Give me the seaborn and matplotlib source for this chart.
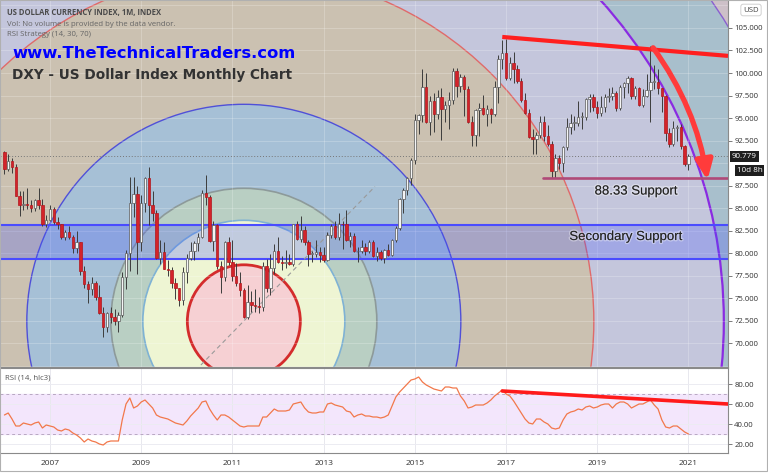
import numpy as np
import pandas as pd
import matplotlib
matplotlib.use("Agg")
import matplotlib.pyplot as plt
import seaborn as sns
from matplotlib.patches import Circle, FancyArrowPatch, Rectangle, ArrowStyle
from matplotlib.transforms import IdentityTransform, blended_transform_factory
import matplotlib.patheffects as pe

# ---------------- data (monthly DXY, Jan 2006 .. Jan 2021) ----------------
start_month = "2006-01"
first_open = 91.2
close = [89.4, 90.2, 89.6, 86.4, 85.3, 85.5, 85.3, 85.0, 85.9, 85.3, 83.3, 83.7,
         84.9, 83.5, 83.2, 81.8, 82.4, 81.8, 80.6, 81.2, 78.0, 76.6, 76.0, 76.7,
         75.2, 73.4, 71.8, 73.4, 72.9, 72.5, 73.1, 77.4, 80.0, 85.6, 86.6, 81.3,
         85.6, 88.3, 85.4, 84.5, 79.5, 80.1, 78.3, 78.1, 76.7, 76.1, 74.8, 77.9,
         79.5, 80.3, 81.1, 81.8, 86.7, 86.2, 81.4, 83.1, 78.6, 77.4, 81.2, 79.0,
         77.5, 76.7, 75.9, 72.9, 74.6, 74.3, 74.1, 74.0, 78.6, 76.2, 78.4, 80.2,
         79.0, 78.9, 79.0, 78.8, 83.2, 81.6, 82.6, 81.2, 79.9, 79.9, 80.1, 79.8,
         79.2, 82.0, 83.0, 81.8, 83.3, 83.2, 81.5, 81.9, 80.2, 80.2, 80.7, 80.2,
         81.2, 79.7, 80.1, 79.5, 80.4, 79.8, 81.5, 82.8, 86.0, 87.0, 88.4, 90.3,
         94.8, 95.3, 98.4, 94.6, 96.9, 95.5, 97.3, 96.0, 96.4, 97.0, 100.2, 98.6,
         99.6, 98.2, 94.6, 93.1, 95.9, 96.1, 95.5, 96.0, 95.4, 98.5, 101.5, 102.2,
         99.5, 101.1, 100.4, 99.1, 97.0, 95.6, 92.9, 92.7, 93.1, 94.6, 93.0, 92.1,
         89.1, 90.6, 90.0, 91.8, 94.0, 94.5, 94.5, 95.1, 95.1, 97.1, 97.3, 96.2,
         95.6, 96.2, 97.3, 97.5, 97.8, 96.1, 98.5, 98.9, 99.4, 97.4, 98.3, 96.4,
         97.4, 98.1, 99.0, 99.0, 98.3, 97.4, 93.3, 92.1, 93.9, 94.0, 91.9, 89.9,
         90.78]
high = [91.4, 91.0, 90.6, 89.9, 86.9, 86.9, 87.2, 85.9, 86.0, 87.2, 86.0, 84.3,
        85.4, 85.1, 84.0, 83.3, 82.6, 83.0, 82.0, 82.5, 81.3, 78.6, 76.9, 77.4,
        76.9, 76.5, 74.0, 73.5, 74.0, 73.8, 73.5, 77.9, 80.4, 88.5, 88.5, 87.5,
        86.5, 88.5, 89.6, 86.9, 84.8, 81.5, 81.3, 79.2, 78.5, 77.3, 76.2, 78.5,
        79.9, 81.3, 81.4, 82.2, 87.0, 88.7, 86.5, 83.6, 83.3, 79.1, 81.4, 81.8,
        81.5, 78.9, 77.9, 76.1, 76.5, 75.8, 76.0, 75.1, 79.0, 79.4, 79.9, 81.0,
        81.8, 79.7, 80.4, 79.9, 83.3, 83.6, 84.1, 83.0, 81.5, 80.3, 81.5, 80.7,
        80.7, 82.4, 83.2, 83.6, 84.5, 83.6, 84.8, 82.4, 82.3, 80.7, 81.5, 81.1,
        81.5, 81.5, 80.7, 80.4, 80.5, 81.0, 81.6, 83.0, 86.1, 87.2, 88.5, 90.6,
        95.5, 95.5, 100.4, 100.0, 97.4, 97.8, 98.1, 98.3, 96.9, 97.9, 100.5, 100.6,
        99.9, 99.8, 98.6, 95.2, 96.0, 96.7, 97.6, 96.4, 96.1, 99.1, 102.0, 103.7,
        103.8, 101.8, 102.3, 100.9, 99.5, 97.8, 96.0, 93.8, 93.4, 95.2, 95.2, 94.2,
        92.5, 91.0, 90.9, 91.9, 95.0, 95.5, 95.2, 96.9, 95.7, 97.2, 97.7, 97.7,
        96.9, 97.4, 97.7, 98.3, 98.4, 98.0, 98.7, 99.0, 99.7, 99.6, 98.6, 98.5,
        98.2, 99.9, 103.0, 100.9, 100.4, 98.3, 97.6, 93.9, 94.7, 94.2, 94.3, 92.0,
        91.0]
low = [88.8, 89.1, 88.9, 86.3, 84.1, 84.8, 84.9, 84.6, 84.7, 84.9, 83.0, 82.9,
       83.6, 83.3, 82.7, 81.6, 81.5, 81.6, 80.0, 80.0, 77.6, 76.1, 74.5, 75.4,
       74.8, 73.3, 70.7, 71.3, 72.3, 72.0, 71.3, 72.9, 76.0, 78.0, 84.0, 77.7,
       80.3, 84.6, 83.1, 83.6, 79.4, 78.8, 78.2, 77.5, 76.1, 74.9, 74.2, 74.3,
       76.7, 79.2, 79.3, 80.2, 81.7, 85.4, 81.2, 80.2, 78.3, 75.6, 76.9, 78.7,
       76.9, 76.4, 75.3, 72.8, 72.7, 73.5, 73.5, 73.4, 73.6, 75.7, 75.4, 77.7,
       78.9, 78.1, 78.4, 78.7, 78.6, 81.5, 81.3, 80.9, 78.6, 79.0, 79.6, 79.0,
       79.0, 79.1, 81.7, 81.6, 81.5, 80.5, 81.4, 80.7, 80.1, 79.0, 80.0, 79.8,
       80.0, 79.6, 79.1, 79.2, 78.9, 79.7, 79.7, 81.3, 82.6, 84.5, 86.5, 87.6,
       89.9, 93.2, 94.6, 94.5, 93.1, 93.5, 94.9, 92.6, 94.6, 93.8, 96.6, 97.3,
       97.9, 95.2, 94.5, 91.9, 91.9, 93.0, 95.3, 94.1, 94.4, 95.2, 96.7, 100.4,
       99.2, 99.2, 98.9, 98.9, 96.8, 95.5, 92.8, 91.0, 91.0, 92.8, 92.5, 91.9,
       88.4, 88.3, 89.3, 89.0, 91.5, 93.2, 93.7, 94.1, 93.8, 94.8, 95.7, 95.8,
       95.0, 95.2, 95.7, 96.8, 97.0, 95.8, 95.9, 97.2, 97.8, 97.1, 97.1, 96.3,
       96.2, 97.3, 94.6, 98.2, 97.7, 95.7, 92.5, 91.8, 91.9, 92.5, 91.6, 89.7,
       89.2]
rsi = [49, 51, 45, 38, 38, 41, 40, 39, 41, 42, 36, 39,
       38, 37, 34, 33, 35, 34, 31, 29, 26, 22, 25, 23,
       22, 20, 19, 22, 23, 23, 23, 44, 60, 66, 56, 58,
       62, 64, 60, 56, 49, 47, 46, 45, 43, 41, 40, 39,
       43, 48, 52, 56, 62, 63, 55, 49, 44, 49, 49, 47,
       44, 41, 38, 37, 38, 38, 38, 38, 47, 47, 51, 55,
       53, 53, 53, 54, 60, 61, 62, 56, 52, 51, 51, 52,
       52, 60, 61, 59, 58, 57, 53, 52, 47, 49, 50, 48,
       48, 47, 47, 46, 47, 49, 58, 67, 72, 76, 80, 84,
       85, 87, 82, 79, 77, 75, 74, 73, 77, 77, 76, 76,
       68, 63, 56, 57, 59, 59, 59, 61, 64, 68, 71, 74,
       70, 68, 63, 57, 51, 45, 41, 40, 45, 45, 42, 40,
       36, 35, 36, 44, 50, 52, 53, 55, 54, 57, 58, 56,
       57, 59, 60, 60, 56, 60, 62, 62, 60, 56, 58, 60,
       60, 62, 64, 59, 55, 44, 37, 36, 38, 38, 35, 32,
       30]
year_labels = ["2007", "2009", "2011", "2013", "2015", "2017", "2019", "2021"]
price_ticks = [70.0, 72.5, 75.0, 77.5, 80.0, 82.5, 85.0, 87.5,
               92.5, 95.0, 97.5, 100.0, 102.5, 105.0]
rsi_ticks = [20, 40, 60, 80]
last_price = 90.779
support_level = 88.33
secondary_support = (79.4, 83.15)
fib_center = (63, 72.45)                      # (month index, price)
resistance = ([131, 190.4], [104.0, 101.9])
rsi_trend = ([131, 190.4], [73.0, 60.0])
guide_line = ([51.7, 97.5], [67.6, 87.4])
arrow_pts = ((170.7, 102.8), (185.0, 88.1))

# ---------------- frame ----------------
months = pd.period_range(start_month, periods=len(close), freq="M")
df = pd.DataFrame({"m": np.arange(len(close)), "close": close, "high": high, "low": low})
df["open"] = [first_open] + close[:-1]
df["rsi"] = rsi
df["year"] = months.year
df["month"] = months.month

sns.set_style("white")
plt.rcParams["font.family"] = ["Open Sans", "DejaVu Sans"]

W, H = 768, 473
fig = plt.figure(figsize=(W / 100, H / 100), dpi=100)
fig.patch.set_facecolor("white")
ax = fig.add_axes([0, 106 / H, 728 / W, 367 / H])
ax2 = fig.add_axes([0, 20.3 / H, 728 / W, 84.7 / H])

XL = (-1.16, 190.4)
ax.set_xlim(*XL)
ax.set_ylim(67.38, 108.1)
ax2.set_xlim(*XL)
ax2.set_ylim(11.3, 96)

# ---------------- fib circles ----------------
ax.set_facecolor("#cdc0c8")
cx, cy = ax.transData.transform(fib_center)
rings = [
    (567, "#a8bfcc", "#8a5fd0", 1.0),
    (480, "#c4c6dc", "#8a2be2", 1.6),
    (350, "#cbc1b1", "#e06a6a", 1.0),
    (217, "#a6c0d6", "#5050d8", 1.0),
    (133, "#b9cfc3", "#8d9a9a", 1.2),
    (101, "#eef5d3", "#7fb2d4", 1.2),
    (56.5, "#f6d0d3", "#d42c2c", 2.0),
]
for r, fc, ec, lw in rings:
    c = Circle((cx, cy), r, transform=IdentityTransform(), facecolor=fc,
               edgecolor=ec, lw=lw, zorder=0.5)
    c.set_clip_path(ax.patch)
    ax.add_artist(c)

# grid
year_pos = df.loc[(df.month == 1) & (df.year % 2 == 1), "m"].tolist()
for yp in year_pos:
    ax.axvline(yp, color="white", alpha=0.22, lw=0.7, zorder=1)
    ax2.axvline(yp, color="#e8e8ee", lw=0.7, zorder=0.5)
for p in np.arange(67.5, 108, 2.5):
    ax.axhline(p, color="white", alpha=0.22, lw=0.7, zorder=1)
for t in rsi_ticks:
    ax2.axhline(t, color="#ececf2", lw=0.7, zorder=0.5)

# secondary support band
ax.axhspan(*secondary_support, facecolor=(0.24, 0.31, 1.0, 0.25), edgecolor="none", zorder=1.5)
for lv in secondary_support:
    ax.axhline(lv, color="#4a4cff", lw=1.5, zorder=1.6)

# dotted last price line
ax.axhline(last_price, color="#777777", ls=(0, (1, 2)), lw=0.7, zorder=2)

# guide dashed line
ax.plot(*guide_line, color="#9a9a9a", ls=(0, (4, 3)), lw=0.8, zorder=2)

# ---------------- candles ----------------
up = df.close >= df.open
body = (df.close - df.open).where((df.close - df.open).abs() > 0.08, 0.08)
ax.vlines(df.m, df.low, df.high, color="#3c3c3c", lw=0.7, zorder=3)
ax.bar(df.m[up], body[up], bottom=df.open[up], width=0.62, color="#f5f5f5",
       edgecolor="#5a5a5a", linewidth=0.5, zorder=4)
ax.bar(df.m[~up], body[~up], bottom=df.open[~up], width=0.62, color="#d3232a",
       edgecolor="#b0161c", linewidth=0.5, zorder=4)

# ---------------- drawings ----------------
ax.plot(*resistance, color="#ff1f1f", lw=3, solid_capstyle="butt", zorder=5)
ax.plot([141.7, XL[1]], [support_level, support_level], color="#b04a78", lw=1.9, zorder=5)
arr = FancyArrowPatch(arrow_pts[0], arrow_pts[1], connectionstyle="arc3,rad=-0.12",
                      arrowstyle=ArrowStyle("-|>", head_length=1.15, head_width=0.5),
                      mutation_scale=10, color="#ff3b3b", lw=3.8, zorder=6,
                      shrinkA=0, shrinkB=0)
ax.add_patch(arr)

glow = [pe.withStroke(linewidth=2, foreground=(1, 1, 1, 0.35))]
ax.text(166.2, 86.85, "88.33 Support", ha="center", va="center", fontsize=9.5,
        family=["Liberation Sans", "DejaVu Sans"], color="#222222", zorder=7, path_effects=glow)
ax.text(163.5, 81.8, "Secondary Support", ha="center", va="center", fontsize=9.5,
        family=["Liberation Sans", "DejaVu Sans"], color="#222222", zorder=7, path_effects=glow)

# ---------------- headers ----------------
def fx(px):
    return px / W

def fy(py):
    return 1 - py / H

fig.text(fx(7), fy(12.7), "US DOLLAR CURRENCY INDEX, 1M, INDEX", fontsize=5.5,
         fontweight="bold", color="#4a4a4a", va="center")
fig.text(fx(7), fy(24), "Vol: No volume is provided by the data vendor.", fontsize=5.6,
         color="#666666", va="center")
fig.text(fx(7), fy(34.5), "RSI Strategy (14, 30, 70)", fontsize=5.6, color="#666666", va="center")
fig.text(fx(12), fy(53), "www.TheTechnicalTraders.com", fontsize=11.8, fontweight="bold",
         family=["DejaVu Sans"], color="#0000ff", va="center")
fig.text(fx(12), fy(75.5), "DXY - US Dollar Index Monthly Chart", fontsize=9.8, fontweight="bold",
         family=["DejaVu Sans"], color="#333333", va="center")

# ---------------- axes styling ----------------
for a in (ax, ax2):
    a.yaxis.tick_right()
    for s in ("left", "top"):
        a.spines[s].set_visible(False)
    a.spines["right"].set_color("#8a8a8a")
    a.spines["right"].set_linewidth(0.8)
    a.spines["bottom"].set_color("#8a8a8a")
    a.spines["bottom"].set_linewidth(0.8)
    a.set_xticks(year_pos)
    a.tick_params(axis="y", length=3, width=0.6, color="#666", labelsize=5.6,
                  labelcolor="#333", pad=1.5)

ax.set_yticks(price_ticks)
ax.set_yticklabels([f"{p:.3f}" for p in price_ticks])
ax.tick_params(axis="x", length=0, labelbottom=False)

tr = blended_transform_factory(ax.transAxes, ax.transData)
ax.text(1.005, last_price, "90.779", transform=tr, fontsize=5.8, color="white", va="center",
        ha="left", clip_on=False, zorder=10,
        bbox=dict(boxstyle="square,pad=0.25", fc="#1e1e1e", ec="none"))
ax.text(1.012, 89.2, "10d 8h", transform=tr, fontsize=5.8, color="white", va="center",
        ha="left", clip_on=False, zorder=10,
        bbox=dict(boxstyle="square,pad=0.25", fc="#1e1e1e", ec="none"))
fig.text(fx(751), fy(10), "USD", fontsize=5.6, color="#444", ha="center", va="center",
         bbox=dict(boxstyle="round,pad=0.3", fc="white", ec="#c8c8c8", lw=0.6))

# ---------------- RSI panel ----------------
ax2.set_facecolor("white")
ax2.axhspan(30, 70, color="#f3e6fc", zorder=0.3)
for lv in (30, 70):
    ax2.axhline(lv, color="#b8a8c2", ls=(0, (3, 3)), lw=0.7, zorder=1)
sns.lineplot(data=df, x="m", y="rsi", ax=ax2, color="#f2784b", lw=0.9, zorder=3)
ax2.plot(*rsi_trend, color="#ff1a1a", lw=2.6, zorder=4)
ax2.set_xlabel("")
ax2.set_ylabel("")
ax2.set_yticks(rsi_ticks)
ax2.set_yticklabels([f"{t:.2f}" for t in rsi_ticks])
ax2.set_xticklabels(year_labels)
ax2.tick_params(axis="x", length=3, width=0.6, color="#666", labelsize=6,
                labelcolor="#333", pad=2)
ax2.spines["top"].set_visible(True)
ax2.spines["top"].set_color("#8a8a8a")
ax2.text(0.007, 0.88, "RSI (14, hlc3)", transform=ax2.transAxes, fontsize=5.6,
         color="#555555", va="center")

fig.add_artist(Rectangle((0, 0.004), 0.999, 0.995, transform=fig.transFigure, fill=False,
                         edgecolor="#b0b0b0", lw=0.8))

fig.savefig("out.png", dpi=100)
